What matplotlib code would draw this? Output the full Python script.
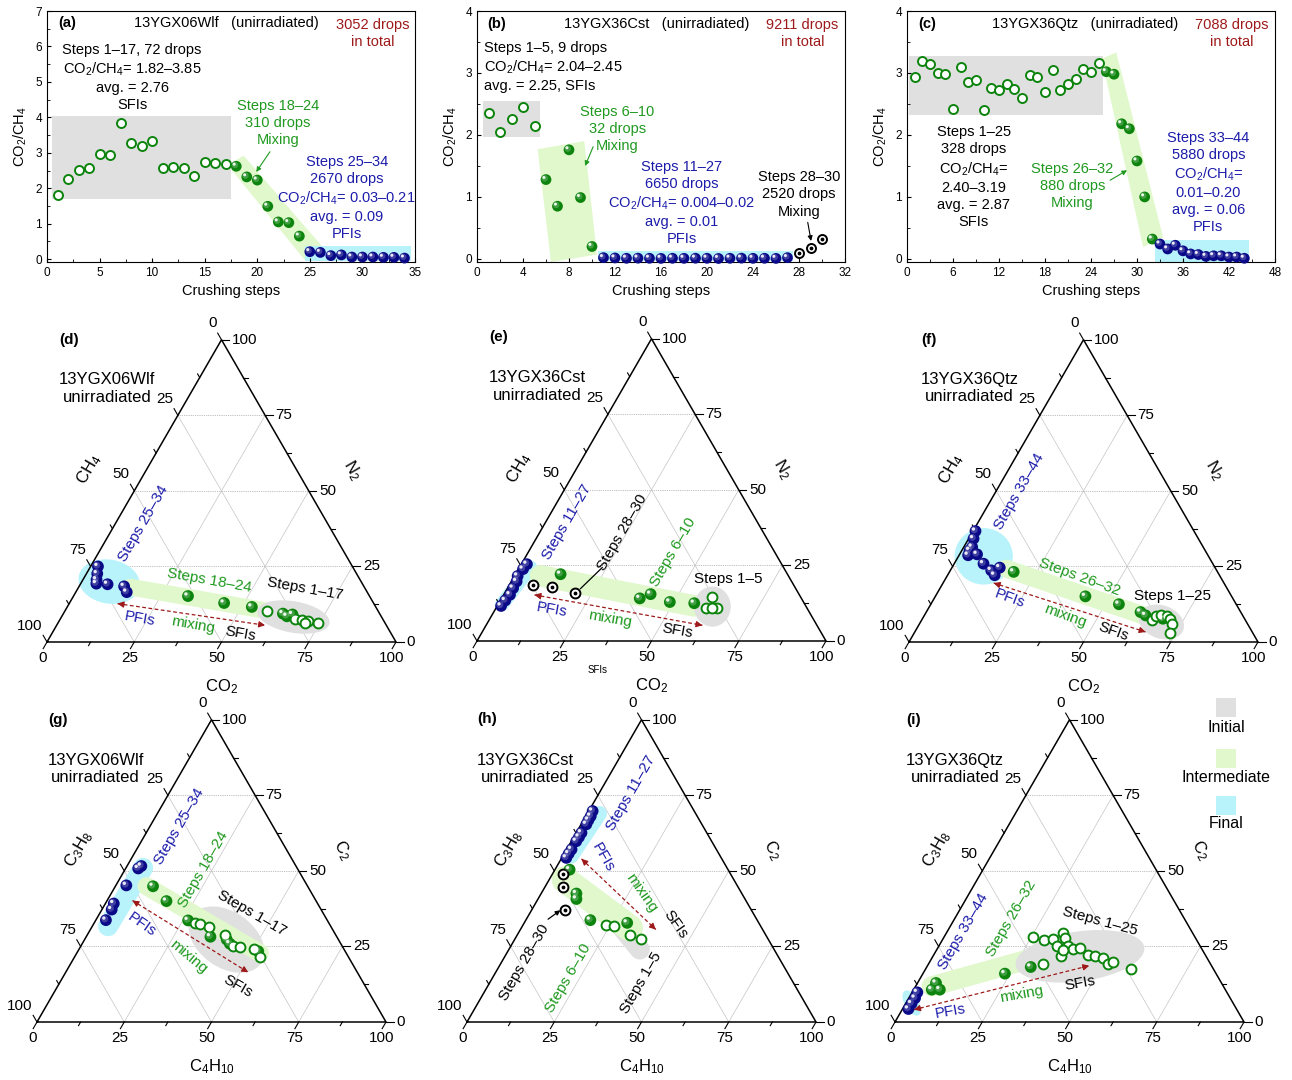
import numpy as np
import matplotlib.pyplot as plt
from matplotlib.patches import Ellipse, Polygon, Rectangle
from matplotlib.transforms import offset_copy
from matplotlib.ticker import MultipleLocator, AutoMinorLocator

plt.rcParams['font.family'] = ['Liberation Sans', 'DejaVu Sans']
plt.rcParams['mathtext.fontset'] = 'custom'
plt.rcParams['mathtext.rm'] = 'Liberation Sans'
plt.rcParams['mathtext.it'] = 'Liberation Sans:italic'
plt.rcParams['mathtext.bf'] = 'Liberation Sans:bold'

# ---------------- data: CO2/CH4 vs crushing step ----------------
a_sfi_x = list(range(1, 18))
a_sfi_y = [1.82, 2.27, 2.52, 2.58, 2.96, 2.94, 3.85, 3.28, 3.18, 3.32, 2.58, 2.59, 2.57, 2.35, 2.75, 2.71, 2.68]
a_mix_x = list(range(18, 25))
a_mix_y = [2.62, 2.32, 2.23, 1.49, 1.05, 1.03, 0.65]
a_pfi_x = list(range(25, 35))
a_pfi_y = [0.21, 0.19, 0.10, 0.12, 0.06, 0.06, 0.06, 0.05, 0.05, 0.03]

b_sfi_x = list(range(1, 6))
b_sfi_y = [2.36, 2.04, 2.25, 2.45, 2.15]
b_mix_x = list(range(6, 11))
b_mix_y = [1.28, 0.85, 1.76, 0.99, 0.20]
b_pfi_x = list(range(11, 28))
b_pfi_y = [0.02, 0.015, 0.01, 0.012, 0.01, 0.008, 0.01, 0.009, 0.011, 0.01, 0.007, 0.01, 0.012, 0.009, 0.01, 0.008, 0.02]
b_late_x = [28, 29, 30]
b_late_y = [0.10, 0.18, 0.32]

c_sfi_x = list(range(1, 26))
c_sfi_y = [2.94, 3.19, 3.14, 3.00, 2.99, 2.42, 3.10, 2.85, 2.88, 2.40, 2.75, 2.73, 2.83, 2.74, 2.59,
           2.97, 2.93, 2.70, 3.04, 2.72, 2.83, 2.91, 3.07, 3.01, 3.16]
c_mix_x = list(range(26, 33))
c_mix_y = [3.02, 2.98, 2.18, 2.10, 1.58, 1.00, 0.32]
c_pfi_x = list(range(33, 45))
c_pfi_y = [0.24, 0.16, 0.22, 0.13, 0.08, 0.07, 0.04, 0.05, 0.05, 0.03, 0.03, 0.01]

# ---------------- data: ternary CO2-N2-CH4 (bottom, right) ----------------
d_pfi_co2 = [2.1, 3.1, 3.9, 4.5, 7.8, 12.9, 14.6]
d_pfi_n2 = [25.0, 22.6, 20.6, 19.3, 19.1, 18.4, 16.5]
d_mix_co2 = [32.8, 44.3, 52.9, 62.9, 64.5, 65.8]
d_mix_n2 = [15.2, 12.9, 11.6, 9.4, 8.5, 9.1]
d_sfi_co2 = [57.9, 67.2, 69.4, 71.4, 74.6, 70.8]
d_sfi_n2 = [10.1, 7.7, 7.2, 6.9, 6.3, 6.3]

e_pfi_co2 = [1.6, 1.3, 0.9, 1.5, 1.6, 1.8, 1.4, 1.1]
e_pfi_n2 = [25.4, 23.8, 21.5, 19.7, 17.5, 15.3, 13.4, 11.6]
e_late_co2 = [6.9, 12.5, 20.2]
e_late_n2 = [18.5, 18.0, 16.0]
e_mix_co2 = [12.9, 39.6, 42.0, 48.8, 56.0]
e_mix_n2 = [22.1, 14.1, 15.5, 12.9, 12.5]
e_sfi_co2 = [60.1, 60.1, 63.5, 61.7]
e_sfi_n2 = [14.7, 10.8, 10.8, 11.0]

f_pfi_co2 = [0.7, 1.4, 2.4, 2.2, 2.6, 5.0, 8.4, 11.7, 13.5, 13.7]
f_pfi_n2 = [36.7, 34.2, 31.4, 30.3, 28.7, 29.0, 25.9, 23.7, 22.1, 24.6]
f_mix_co2 = [18.4, 43.0, 53.9, 61.4, 63.4, 68.9]
f_mix_n2 = [23.2, 15.1, 12.5, 9.9, 8.8, 7.7]
f_sfi_co2 = [65.9, 66.6, 67.9, 69.7, 71.0, 72.6, 73.3]
f_sfi_n2 = [7.2, 8.5, 8.8, 8.5, 7.7, 5.8, 3.1]

# ---------------- data: ternary C4H10-C2-C3H8 (bottom, right) ----------------
g_pfi_c4 = [3.6, 4.1, 3.0, 2.4, 2.8, 2.9]
g_pfi_c2 = [50.8, 51.6, 45.2, 39.2, 37.2, 33.7]
g_mix_c4 = [10.8, 17.1, 26.5, 35.6, 40.7, 42.3, 51.7]
g_mix_c2 = [44.9, 40.0, 33.6, 28.2, 27.3, 25.9, 23.4]
g_sfi_c4 = [28.8, 30.4, 33.6, 39.4, 43.6, 45.9, 50.2, 53.1]
g_sfi_c2 = [32.8, 32.5, 31.5, 28.9, 25.3, 24.8, 24.0, 21.5]

h_pfi_c4 = [1.3, 1.4, 1.4, 1.5, 1.5, 1.4, 1.1, 1.3, 1.5, 1.4]
h_pfi_c2 = [54.3, 57.1, 59.8, 62.6, 65.4, 68.1, 69.8, 55.7, 61.2, 66.8]
h_late_c4 = [3.0, 5.2, 9.4]
h_late_c2 = [49.1, 44.7, 37.2]
h_mix_c4 = [4.2, 10.1, 11.0, 18.5, 29.5]
h_mix_c2 = [50.4, 42.5, 40.7, 33.7, 32.8]
h_sfi_c4 = [23.8, 26.1, 32.2, 36.1]
h_sfi_c2 = [32.2, 31.9, 28.9, 27.3]

i_pfi_c4 = [1.5, 1.8, 1.7, 1.7]
i_pfi_c2 = [9.8, 7.9, 6.1, 4.3]
i_mix_c4 = [5.2, 5.3, 7.5, 23.5, 29.8]
i_mix_c2 = [10.7, 12.9, 10.7, 16.0, 18.2]
i_sfi_c4 = [32.7, 25.6, 29.1, 31.6, 33.3, 34.8, 33.8, 36.8, 39.0, 40.8, 44.2, 36.7, 36.2, 46.4, 48.9, 51.5, 52.5, 59.0]
i_sfi_c2 = [19.3, 28.1, 27.2, 27.5, 29.4, 27.8, 25.0, 25.3, 24.2, 24.5, 22.1, 21.7, 23.7, 21.7, 21.2, 19.3, 19.7, 17.5]

tern_ticks = [0, 25, 50, 75, 100]
legend_labels = ['Initial', 'Intermediate', 'Final']

# ---------------- styles ----------------
GREEN = '#0d840d'
GREEN_TXT = '#1f991f'
BLUE = '#0a0a88'
BLUE_TXT = '#1c1caa'
RED = '#9e1a1a'
GRAY_BG = '#e0e0e0'
GREEN_BG = '#e0f8cb'
CYAN_BG = '#b8f3fb'

W, H = 1292, 1080
S = 349.0
SQ3 = np.sqrt(3) / 2
TFS = 11      # ternary annotation font size

fig = plt.figure(figsize=(W / 100, H / 100), dpi=100)


def draw_pts(ax, x, y, kind, s=60):
    if kind == 'open':
        ax.scatter(x, y, s=s * 0.7, facecolors='white', edgecolors=GREEN, linewidths=1.4, zorder=5, clip_on=False)
    elif kind == 'ring':
        ax.scatter(x, y, s=s * 0.7, facecolors='white', edgecolors='black', linewidths=1.4, zorder=5, clip_on=False)
        ax.scatter(x, y, s=3, color='black', zorder=6, clip_on=False)
    else:
        c = GREEN if kind == 'green' else BLUE
        ax.scatter(x, y, s=s, color=c, edgecolors='none', zorder=5, clip_on=False)
        t1 = offset_copy(ax.transData, fig=fig, x=-0.9, y=0.9, units='points')
        ax.scatter(x, y, s=s * 0.35, color='white', alpha=0.22, edgecolors='none', transform=t1, zorder=5.1, clip_on=False)
        t2 = offset_copy(ax.transData, fig=fig, x=-1.5, y=1.5, units='points')
        ax.scatter(x, y, s=s * 0.08, color='white', alpha=0.9, edgecolors='none', transform=t2, zorder=5.2, clip_on=False)


def arrow(ax, start, end, color, lw=0.8):
    ax.annotate('', xy=end, xytext=start,
                arrowprops=dict(arrowstyle='-|>', color=color, lw=lw, mutation_scale=7, shrinkA=0, shrinkB=0))


# ================= top row =================
def top_axes(x0, xmax, xstep, ymin, ymax):
    ax = fig.add_axes([x0 / W, 1 - 262 / H, 368 / W, 251 / H])
    ax.set_xlim(0, xmax)
    ax.set_ylim(ymin, ymax)
    ax.xaxis.set_major_locator(MultipleLocator(xstep))
    ax.yaxis.set_major_locator(MultipleLocator(1))
    ax.xaxis.set_minor_locator(AutoMinorLocator(2))
    ax.yaxis.set_minor_locator(AutoMinorLocator(2))
    ax.tick_params(which='major', direction='in', length=3, width=0.8, labelsize=8.5, top=False, right=False)
    ax.tick_params(which='minor', direction='in', length=2, width=0.6, top=False, right=False)
    ax.set_xlabel('Crushing steps', fontsize=10.5, labelpad=4)
    ax.set_ylabel('CO$_2$/CH$_4$', fontsize=10.5, labelpad=5)
    for sp in ax.spines.values():
        sp.set_linewidth(0.8)
    return ax


txt = dict(ha='center', va='center', fontsize=10.5, linespacing=1.28)

# (a)
ax = top_axes(47, 35, 5, -0.08, 7)
ax.add_patch(Rectangle((0.5, 1.7), 17.0, 2.35, color=GRAY_BG, lw=0, zorder=1))
ax.add_patch(Polygon([(17.2, 2.65), (18.7, 2.92), (26.2, 0.35), (24.5, -0.02)], closed=True, color=GREEN_BG, lw=0, zorder=1))
ax.add_patch(Rectangle((24.5, -0.05), 10.1, 0.43, color=CYAN_BG, lw=0, zorder=1))
draw_pts(ax, a_sfi_x, a_sfi_y, 'open')
draw_pts(ax, a_mix_x, a_mix_y, 'green')
draw_pts(ax, a_pfi_x, a_pfi_y, 'blue')
ax.text(1.9, 6.67, '(a)', fontweight='bold', **txt)
ax.text(17.1, 6.67, '13YGX06Wlf   (unirradiated)', **txt)
ax.text(31.0, 6.37, '3052 drops\nin total', color=RED, **txt)
ax.text(8.1, 5.12, 'Steps 1–17, 72 drops\nCO$_2$/CH$_4$= 1.82–3.85\navg. = 2.76\nSFIs', **txt)
ax.text(21.95, 3.85, 'Steps 18–24\n310 drops\nMixing', color=GREEN_TXT, **txt)
arrow(ax, (21.2, 3.03), (19.9, 2.46), GREEN_TXT)
ax.text(28.5, 1.73, 'Steps 25–34\n2670 drops\nCO$_2$/CH$_4$= 0.03–0.21\navg. = 0.09\nPFIs', color=BLUE_TXT, **txt)

# (b)
ax = top_axes(477, 32, 4, -0.05, 4)
ax.add_patch(Rectangle((0.5, 1.97), 5.0, 0.58, color=GRAY_BG, lw=0, zorder=1))
ax.add_patch(Polygon([(5.27, 1.77), (9.33, 1.90), (10.43, 0.07), (6.43, -0.05)], closed=True, color=GREEN_BG, lw=0, zorder=1))
ax.add_patch(Rectangle((10.5, -0.03), 17.0, 0.15, color=CYAN_BG, lw=0, zorder=1))
draw_pts(ax, b_sfi_x, b_sfi_y, 'open')
draw_pts(ax, b_mix_x, b_mix_y, 'green')
draw_pts(ax, b_pfi_x, b_pfi_y, 'blue')
draw_pts(ax, b_late_x, b_late_y, 'ring')
ax.text(1.74, 3.79, '(b)', fontweight='bold', **txt)
ax.text(15.6, 3.79, '13YGX36Cst   (unirradiated)', **txt)
ax.text(28.3, 3.64, '9211 drops\nin total', color=RED, **txt)
ax.text(0.58, 3.09, 'Steps 1–5, 9 drops\nCO$_2$/CH$_4$= 2.04–2.45\navg. = 2.25, SFIs',
        ha='left', va='center', fontsize=10.5, linespacing=1.28)
ax.text(12.2, 2.10, 'Steps 6–10\n32 drops\nMixing', color=GREEN_TXT, **txt)
arrow(ax, (10.1, 1.81), (9.4, 1.50), GREEN_TXT)
ax.text(17.8, 0.90, 'Steps 11–27\n6650 drops\nCO$_2$/CH$_4$= 0.004–0.02\navg. = 0.01\nPFIs', color=BLUE_TXT, **txt)
ax.text(28.0, 1.04, 'Steps 28–30\n2520 drops\nMixing', **txt)
arrow(ax, (28.76, 0.59), (29.05, 0.29), 'black')

# (c)
ax = top_axes(907, 48, 6, -0.05, 4)
ax.add_patch(Rectangle((0.3, 2.32), 25.2, 0.95, color=GRAY_BG, lw=0, zorder=1))
ax.add_patch(Polygon([(25.4, 3.23), (27.3, 3.33), (33.4, 0.35), (30.8, 0.19)], closed=True, color=GREEN_BG, lw=0, zorder=1))
ax.add_patch(Rectangle((32.3, -0.05), 12.3, 0.35, color=CYAN_BG, lw=0, zorder=1))
draw_pts(ax, c_sfi_x, c_sfi_y, 'open')
draw_pts(ax, c_mix_x, c_mix_y, 'green')
draw_pts(ax, c_pfi_x, c_pfi_y, 'blue')
ax.text(2.6, 3.79, '(c)', fontweight='bold', **txt)
ax.text(23.2, 3.79, '13YGX36Qtz   (unirradiated)', **txt)
ax.text(42.3, 3.64, '7088 drops\nin total', color=RED, **txt)
ax.text(8.7, 1.32, 'Steps 1–25\n328 drops\nCO$_2$/CH$_4$=\n2.40–3.19\navg. = 2.87\nSFIs', **txt)
ax.text(21.6, 1.18, 'Steps 26–32\n880 drops\nMixing', color=GREEN_TXT, **txt)
arrow(ax, (26.5, 1.27), (28.7, 1.43), GREEN_TXT)
ax.text(39.3, 1.23, 'Steps 33–44\n5880 drops\nCO$_2$/CH$_4$=\n0.01–0.20\navg. = 0.06\nPFIs', color=BLUE_TXT, **txt)


# ================= ternary panels =================
def txy(bottom, right):
    b = np.asarray(bottom, dtype=float) / 100
    r = np.asarray(right, dtype=float) / 100
    return b + r / 2, r * SQ3


def tern_axes(bl, left_lab, right_lab, bottom_lab):
    x0, y0 = bl
    ax = fig.add_axes([(x0 - 0.15 * S) / W, (H - y0 - 0.2 * S) / H, 1.3 * S / W, 1.2 * S / H])
    ax.set_xlim(-0.15, 1.15)
    ax.set_ylim(-0.2, 1.0)
    ax.axis('off')
    # grid
    for v in (25, 50, 75):
        x, y = txy([0, 100 - v], [v, v])
        ax.plot(x, y, color='#a8a8a8', lw=0.6, ls=(0, (1, 1.2)), zorder=0.5)
        x, y = txy([v, v], [0, 100 - v])
        ax.plot(x, y, color='#c4c4c4', lw=0.5, zorder=0.5)
        x, y = txy([100 - v, 0], [0, 100 - v])
        ax.plot(x, y, color='#c4c4c4', lw=0.5, zorder=0.5)
    ax.plot([0, 1, 0.5, 0], [0, 0, SQ3, 0], color='black', lw=1.1, zorder=3, solid_joinstyle='miter')
    # ticks
    for t in np.arange(0, 100.1, 12.5):
        L = 0.022 if t % 25 == 0 else 0.012
        x, y = txy(t, 0)
        ax.plot([x, x - 0.5 * L], [y, y - SQ3 * L], color='black', lw=0.8, zorder=3)
        x, y = txy(100 - t, t)
        ax.plot([x, x + L], [y, y], color='black', lw=0.8, zorder=3)
        x, y = txy(0, 100 - t)
        ax.plot([x, x - 0.5 * L], [y, y + SQ3 * L], color='black', lw=0.8, zorder=3)
    for t in tern_ticks:
        x, y = txy(t, 0)
        ax.text(x - 0.013, y - 0.045, str(t), ha='center', va='center', fontsize=11)
        x, y = txy(100 - t, t)
        ax.text(x + 0.03, y, str(t), ha='left', va='center', fontsize=11)
        x, y = txy(0, 100 - t)
        ax.text(x - 0.014, y + 0.047, str(t), ha='right', va='center', fontsize=11)
    ax.text(0.119, 0.496, left_lab, rotation=60, ha='center', va='center', fontsize=12, rotation_mode='anchor')
    ax.text(0.873, 0.493, right_lab, rotation=-60, ha='center', va='center', fontsize=12, rotation_mode='anchor')
    ax.text(0.5, -0.128, bottom_lab, ha='center', va='center', fontsize=12)
    return ax


def band(ax, p1, p2, width, color, z=1):
    ax.plot([p1[0], p2[0]], [p1[1], p2[1]], color=color, lw=width, solid_capstyle='round', zorder=z)


def blob(ax, c, w, h, ang, color, z=1):
    ax.add_patch(Ellipse(c, w, h, angle=ang, color=color, lw=0, zorder=z))


def dash_arrow(ax, p1, p2):
    ax.plot([p1[0], p2[0]], [p1[1], p2[1]], ls=(0, (3, 2)), color=RED, lw=0.9, zorder=4)
    for a, b in ((p1, p2), (p2, p1)):
        back = (a[0] + (b[0] - a[0]) * 0.04, a[1] + (b[1] - a[1]) * 0.04)
        ax.annotate('', xy=a, xytext=back,
                    arrowprops=dict(arrowstyle='-|>', color=RED, lw=0.9, mutation_scale=9, shrinkA=0, shrinkB=0))


def labels(ax, items):
    for s, x, y, rot, col, fs in items:
        ax.text(x, y, s, rotation=rot, color=col, ha='center', va='center', fontsize=fs, rotation_mode='anchor')


def header(ax, tag, name, xy_tag, xc, yc):
    ax.text(xy_tag[0], xy_tag[1], tag, fontweight='bold', ha='center', va='center', fontsize=11)
    ax.text(xc, yc, name + '\nunirradiated', ha='center', va='center', fontsize=12, linespacing=1.2)


TS = 72
# (d)
ax = tern_axes((47, 642), 'CH$_4$', 'N$_2$', 'CO$_2$')
blob(ax, (0.178, 0.173), 0.177, 0.126, -10, CYAN_BG)
band(ax, (0.2385, 0.1574), (0.6775, 0.0811), 12, GREEN_BG)
blob(ax, (0.706, 0.0716), 0.21, 0.09, -10, GRAY_BG)
draw_pts(ax, *txy(d_pfi_co2, d_pfi_n2), 'blue', TS)
draw_pts(ax, *txy(d_mix_co2, d_mix_n2), 'green', TS)
draw_pts(ax, *txy(d_sfi_co2, d_sfi_n2), 'open', TS)
header(ax, '(d)', '13YGX06Wlf', (0.062, 0.865), 0.173, 0.726)
labels(ax, [('Steps 25–34', 0.277, 0.339, 60, BLUE_TXT, TFS),
            ('Steps 18–24', 0.466, 0.177, -10, GREEN_TXT, TFS),
            ('Steps 1–17', 0.74, 0.153, -10, 'black', TFS),
            ('PFIs', 0.265, 0.067, -10, BLUE_TXT, TFS),
            ('mixing', 0.418, 0.048, -10, GREEN_TXT, TFS),
            ('SFIs', 0.553, 0.024, -10, 'black', TFS)])
dash_arrow(ax, (0.202, 0.110), (0.625, 0.048))

# (e)
ax = tern_axes((477, 641), 'CH$_4$', 'N$_2$', 'CO$_2$')
band(ax, (0.0718, 0.1053), (0.153, 0.2105), 10, CYAN_BG)
band(ax, (0.182, 0.1866), (0.622, 0.1005), 15.5, GREEN_BG)
blob(ax, (0.6746, 0.0986), 0.105, 0.115, 0, GRAY_BG)
draw_pts(ax, *txy(e_pfi_co2, e_pfi_n2), 'blue', TS)
draw_pts(ax, *txy(e_mix_co2, e_mix_n2), 'green', TS)
draw_pts(ax, *txy(e_sfi_co2, e_sfi_n2), 'open', TS)
draw_pts(ax, *txy(e_late_co2, e_late_n2), 'ring', TS)
header(ax, '(e)', '13YGX36Cst', (0.062, 0.871), 0.173, 0.729)
labels(ax, [('Steps 11–27', 0.2565, 0.3397, 60, BLUE_TXT, TFS),
            ('Steps 28–30', 0.4163, 0.311, 60, 'black', TFS),
            ('Steps 6–10', 0.5627, 0.2536, 60, GREEN_TXT, TFS),
            ('Steps 1–5', 0.7206, 0.1789, 0, 'black', TFS),
            ('PFIs', 0.2153, 0.0909, -10, BLUE_TXT, TFS),
            ('mixing', 0.3809, 0.0622, -10, GREEN_TXT, TFS),
            ('SFIs', 0.5742, 0.0287, -10, 'black', TFS),
            ('SFIs', 0.345, -0.083, 0, 'black', 7)])
ax.plot([0.2967, 0.3589], [0.1502, 0.2105], color='black', lw=0.9, zorder=4)
dash_arrow(ax, (0.1646, 0.1321), (0.646, 0.045))

# (f)
ax = tern_axes((909, 642), 'CH$_4$', 'N$_2$', 'CO$_2$')
blob(ax, (0.214, 0.2455), 0.167, 0.162, 0, CYAN_BG)
band(ax, (0.2789, 0.2101), (0.6705, 0.0764), 13, GREEN_BG)
blob(ax, (0.723, 0.0573), 0.134, 0.095, -20, GRAY_BG)
draw_pts(ax, *txy(f_pfi_co2, f_pfi_n2), 'blue', TS)
draw_pts(ax, *txy(f_mix_co2, f_mix_n2), 'green', TS)
draw_pts(ax, *txy(f_sfi_co2, f_sfi_n2), 'open', TS)
header(ax, '(f)', '13YGX36Qtz', (0.0573, 0.866), 0.174, 0.727)
labels(ax, [('Steps 33–44', 0.315, 0.43, 60, BLUE_TXT, TFS),
            ('Steps 26–32', 0.489, 0.186, -20, GREEN_TXT, TFS),
            ('Steps 1–25', 0.756, 0.131, 0, 'black', TFS),
            ('PFIs', 0.2884, 0.124, -20, BLUE_TXT, TFS),
            ('mixing', 0.446, 0.076, -20, GREEN_TXT, TFS),
            ('SFIs', 0.5845, 0.0287, -20, 'black', TFS)])
dash_arrow(ax, (0.2426, 0.169), (0.678, 0.0287))

# (g)
ax = tern_axes((37, 1022), 'C$_3$H$_8$', 'C$_2$', 'C$_4$H$_{10}$')
band(ax, (0.2036, 0.2744), (0.304, 0.4417), 14.4, CYAN_BG)
blob(ax, (0.543, 0.2361), 0.24, 0.16, -35, GRAY_BG)
band(ax, (0.3136, 0.3891), (0.6386, 0.1979), 13, GREEN_BG)
draw_pts(ax, *txy(g_pfi_c4, g_pfi_c2), 'blue', TS)
draw_pts(ax, *txy(g_mix_c4, g_mix_c2), 'green', TS)
draw_pts(ax, *txy(g_sfi_c4, g_sfi_c2), 'open', TS)
header(ax, '(g)', '13YGX06Wlf', (0.0602, 0.8652), 0.168, 0.7255)
labels(ax, [('Steps 25–34', 0.409, 0.561, 60, BLUE_TXT, TFS),
            ('Steps 18–24', 0.476, 0.437, 60, GREEN_TXT, TFS),
            ('Steps 1–17', 0.6147, 0.3126, -30, 'black', TFS),
            ('PFIs', 0.2992, 0.2792, -35, BLUE_TXT, TFS),
            ('mixing', 0.433, 0.188, -40, GREEN_TXT, TFS),
            ('SFIs', 0.5765, 0.1023, -30, 'black', TFS)])
dash_arrow(ax, (0.2734, 0.348), (0.6052, 0.1424))

# (h)
ax = tern_axes((467, 1022), 'C$_3$H$_8$', 'C$_2$', 'C$_4$H$_{10}$')
band(ax, (0.2985, 0.4751), (0.3797, 0.5975), 10.8, CYAN_BG)
band(ax, (0.4331, 0.2839), (0.4952, 0.2075), 14.4, GRAY_BG)
band(ax, (0.2801, 0.4082), (0.4665, 0.2696), 19, GREEN_BG)
draw_pts(ax, *txy(h_pfi_c4, h_pfi_c2), 'blue', TS)
draw_pts(ax, *txy(h_mix_c4, h_mix_c2), 'green', TS)
draw_pts(ax, *txy(h_sfi_c4, h_sfi_c2), 'open', TS)
draw_pts(ax, *txy(h_late_c4, h_late_c2), 'ring', TS)
header(ax, '(h)', '13YGX36Cst', (0.0574, 0.869), 0.168, 0.7255)
labels(ax, [('Steps 11–27', 0.4713, 0.6568, 60, BLUE_TXT, TFS),
            ('PFIs', 0.39, 0.4704, -60, BLUE_TXT, TFS),
            ('mixing', 0.5, 0.37, -55, GREEN_TXT, TFS),
            ('SFIs', 0.5975, 0.2792, -55, 'black', TFS),
            ('Steps 28–30', 0.1654, 0.1692, 60, 'black', TFS),
            ('Steps 6–10', 0.2897, 0.1262, 60, GREEN_TXT, TFS),
            ('Steps 1–5', 0.5, 0.1119, 60, 'black', TFS)])
arrow(ax, (0.2323, 0.2945), (0.2676, 0.3202), 'black', lw=0.9)
dash_arrow(ax, (0.3279, 0.4675), (0.5411, 0.2648))

# (i)
ax = tern_axes((895, 1022), 'C$_3$H$_8$', 'C$_2$', 'C$_4$H$_{10}$')
blob(ax, (0.0478, 0.0544), 0.04, 0.08, 30, CYAN_BG)
band(ax, (0.1051, 0.1022), (0.3964, 0.1834), 14.4, GREEN_BG)
blob(ax, (0.53, 0.1882), 0.372, 0.143, 8, GRAY_BG)
draw_pts(ax, *txy(i_pfi_c4, i_pfi_c2), 'blue', TS)
draw_pts(ax, *txy(i_mix_c4, i_mix_c2), 'green', TS)
draw_pts(ax, *txy(i_sfi_c4, i_sfi_c2), 'open', TS)
header(ax, '(i)', '13YGX36Qtz', (0.0544, 0.8663), 0.172, 0.7248)
labels(ax, [('Steps 33–44', 0.1958, 0.2598, 60, BLUE_TXT, TFS),
            ('Steps 26–32', 0.3343, 0.298, 60, GREEN_TXT, TFS),
            ('Steps 1–25', 0.5874, 0.2884, -15, 'black', TFS),
            ('PFIs', 0.1576, 0.0306, 10, BLUE_TXT, TFS),
            ('mixing', 0.363, 0.0783, 10, GREEN_TXT, TFS),
            ('SFIs', 0.53, 0.1117, 10, 'black', TFS)])
dash_arrow(ax, (0.0544, 0.0353), (0.5568, 0.1614))

# legend
for lab, col, ysq, ylab in zip(legend_labels, [GRAY_BG, GREEN_BG, CYAN_BG], [698, 749, 796], [727, 777, 824]):
    fig.add_artist(Rectangle((1216 / W, 1 - (ysq + 19) / H), 20 / W, 19 / H, color=col, lw=0,
                             transform=fig.transFigure))
    fig.text(1226 / W, 1 - ylab / H, lab, ha='center', va='center', fontsize=11.5)

fig.savefig('out.png', dpi=100)
